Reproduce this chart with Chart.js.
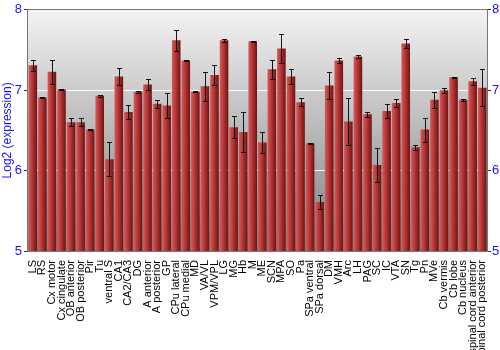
<!DOCTYPE html>
<html>
<head>
<meta charset="utf-8">
<script src="https://cdn.jsdelivr.net/npm/chart.js@4"></script>
<style>
  html, body { margin: 0; padding: 0; background: #fff; }
  #wrap { width: 500px; height: 350px; }
</style>
</head>
<body>
<div id="wrap"><canvas id="chart" width="500" height="350"></canvas></div>
<script>
const regions = ['LS', 'RS', 'Cx motor', 'Cx cingulate', 'OB anterior', 'OB posterior', 'Pir', 'Tu',
    'ventral S', 'CA1', 'CA2/CA3', 'DG', 'A anterior', 'A posterior', 'GP', 'CPu lateral', 'CPu medial',
    'MD', 'VA/VL', 'VPM/VPL', 'LG', 'MG', 'Hb', 'M', 'ME', 'SCN', 'MPA', 'SO', 'Pa', 'SPa ventral',
    'SPa dorsal', 'DM', 'VMH', 'Arc', 'LH', 'PAG', 'SC', 'IC', 'VTA', 'SN', 'Tg', 'Pn', 'MVe',
    'Cb vermis', 'Cb lobe', 'Cb nucleus', 'spinal cord anterior', 'spinal cord posterior'];

const expression = [7.31, 6.91, 7.23, 7.01, 6.60, 6.60, 6.51, 6.93,
    6.14, 7.17, 6.73, 6.98, 7.07, 6.83, 6.81, 7.62, 7.37,
    6.98, 7.05, 7.19, 7.62, 6.54, 6.48, 7.61, 6.35, 7.26, 7.52, 7.17, 6.85, 6.34,
    5.61, 7.06, 7.37, 6.61, 7.42, 6.70, 6.07, 6.74, 6.84, 7.58, 6.29, 6.51, 6.88,
    7.00, 7.16, 6.88, 7.11, 7.03];

const errors = [0.07, 0.01, 0.15, 0.005, 0.05, 0.05, 0.01, 0.01,
    0.21, 0.10, 0.085, 0.01, 0.065, 0.05, 0.15, 0.13, 0.01,
    0.005, 0.18, 0.12, 0.02, 0.14, 0.25, 0.005, 0.13, 0.12, 0.18, 0.095, 0.05, 0.005,
    0.085, 0.17, 0.035, 0.29, 0.015, 0.03, 0.21, 0.09, 0.045, 0.056, 0.03, 0.15, 0.10,
    0.03, 0.01, 0.01, 0.045, 0.23];

const yTicks = [5, 6, 7, 8];

const axisBlue = '#1414ff';

// gray gradient behind the plot + frame
const plotBackground = {
    id: 'plotBackground',
    beforeDraw(chart) {
        const { ctx, chartArea: a } = chart;
        const g = ctx.createLinearGradient(0, a.top, 0, a.bottom);
        g.addColorStop(0, '#f3f3f3');
        g.addColorStop(1, '#7e7e7e');
        ctx.save();
        ctx.fillStyle = g;
        ctx.fillRect(a.left, a.top, a.right - a.left, a.bottom - a.top);
        ctx.restore();
    },
    afterDraw(chart) {
        const { ctx, chartArea: a } = chart;
        ctx.save();
        ctx.strokeStyle = '#777';
        ctx.lineWidth = 1;
        ctx.strokeRect(Math.round(a.left) - 0.5, Math.round(a.top) - 0.5,
            Math.round(a.right - a.left) + 1, Math.round(a.bottom - a.top) + 1);
        ctx.restore();
    }
};

// horizontal red shading, worked out from the bar's own position
function barFill(c) {
    const bar = c.chart.getDatasetMeta(0).data[c.dataIndex];
    if (!bar || bar.x === undefined || !bar.width) return '#b83232';
    const g = c.chart.ctx.createLinearGradient(bar.x - bar.width / 2, 0, bar.x + bar.width / 2, 0);
    g.addColorStop(0, '#d05c5c');
    g.addColorStop(0.35, '#c03c3c');
    g.addColorStop(1, '#6e1212');
    return g;
}

const errorBars = {
    id: 'errorBars',
    afterDatasetsDraw(chart) {
        const { ctx } = chart;
        const y = chart.scales.y;
        ctx.save();
        ctx.strokeStyle = 'rgba(0,0,0,0.9)';
        ctx.lineWidth = 1;
        chart.getDatasetMeta(0).data.forEach((bar, i) => {
            const x = Math.round(bar.x) + 0.5;
            const top = Math.round(y.getPixelForValue(expression[i] + errors[i])) + 0.5;
            const bot = Math.round(y.getPixelForValue(expression[i] - errors[i])) + 0.5;
            ctx.beginPath();
            ctx.moveTo(x, top);
            ctx.lineTo(x, bot);
            ctx.moveTo(x - 2.5, top);
            ctx.lineTo(x + 2.5, top);
            ctx.moveTo(x - 2.5, bot);
            ctx.lineTo(x + 2.5, bot);
            ctx.stroke();
        });
        ctx.restore();
    }
};

const gridColor = c => (c.tick && (c.tick.value === 6 || c.tick.value === 7)) ? 'rgba(255,255,255,0.9)' : 'rgba(0,0,0,0)';

const chart = new Chart(document.getElementById('chart'), {
    type: 'bar',
    data: {
        labels: regions,
        datasets: [{
            data: expression,
            backgroundColor: barFill,
            borderWidth: 0,
            barPercentage: 0.9,
            categoryPercentage: 1.0
        }]
    },
    options: {
        responsive: false,
        animation: false,
        layout: { padding: { top: 9, left: 0, right: 0, bottom: 0 } },
        plugins: {
            legend: { display: false },
            tooltip: { enabled: false }
        },
        scales: {
            x: {
                grid: { display: false },
                border: { display: false },
                ticks: {
                    autoSkip: false,
                    minRotation: 90,
                    maxRotation: 90,
                    padding: 1,
                    color: '#000',
                    font: { family: 'Liberation Sans', size: 11 }
                },
                afterFit(s) { s.height = 99; }
            },
            y: {
                min: 5,
                max: 8,
                afterBuildTicks(s) { s.ticks = yTicks.map(v => ({ value: v })); },
                grid: { color: gridColor, tickColor: '#333', tickLength: 4, drawTicks: true },
                border: { display: false },
                ticks: {
                    color: axisBlue,
                    padding: 2,
                    font: { family: 'Liberation Sans', size: 13 }
                },
                title: {
                    display: true,
                    text: 'Log2 (expression)',
                    color: axisBlue,
                    padding: 0,
                    font: { family: 'Liberation Sans', size: 12 }
                },
                afterFit(s) { s.width = 28; }
            },
            y2: {
                position: 'right',
                min: 5,
                max: 8,
                afterBuildTicks(s) { s.ticks = yTicks.map(v => ({ value: v })); },
                grid: { drawOnChartArea: false, tickColor: '#333', tickLength: 4 },
                border: { display: false },
                ticks: {
                    color: axisBlue,
                    padding: 1,
                    font: { family: 'Liberation Sans', size: 13 }
                },
                afterFit(s) { s.width = 13; }
            }
        }
    },
    plugins: [plotBackground, errorBars]
});
// second pass so the shading sees the laid-out bars
chart.update('none');
</script>
</body>
</html>
